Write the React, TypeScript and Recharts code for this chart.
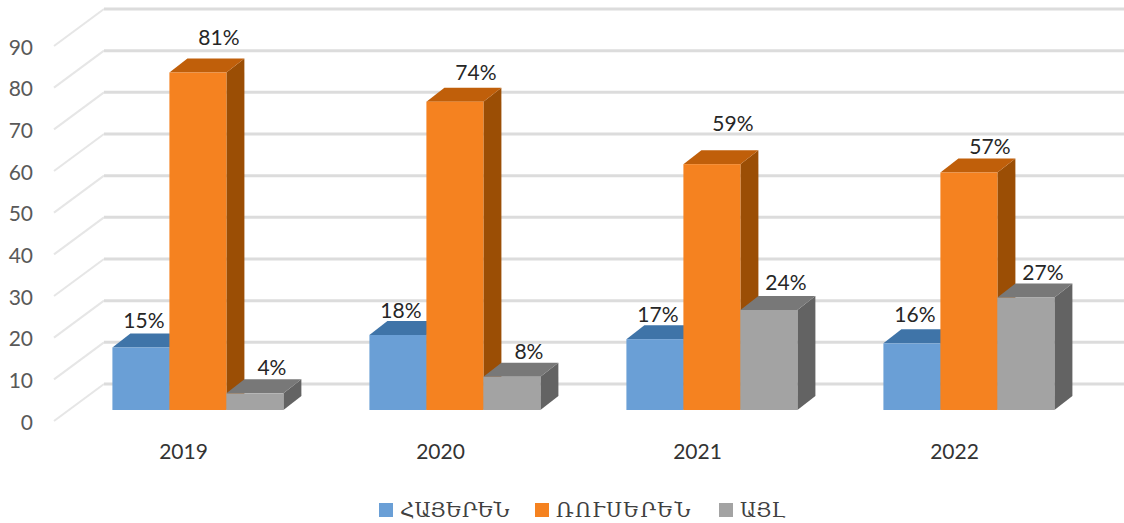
import { BarChart, Bar, XAxis, YAxis, CartesianGrid, Legend, LabelList } from 'recharts';

const YEARS = ['2019', '2020', '2021', '2022'];
const ARMENIAN = [15, 18, 17, 16];
const RUSSIAN = [81, 74, 59, 57];
const OTHER = [4, 8, 24, 27];
const Y_TICKS = [0, 10, 20, 30, 40, 50, 60, 70, 80, 90];

const chartData = YEARS.map((year, i) => ({
  year,
  armenian: ARMENIAN[i],
  russian: RUSSIAN[i],
  other: OTHER[i],
}));

const NUM_FONT = 'Lato, "Open Sans", sans-serif';
const ARM_FONT = '"DejaVu Serif", serif';

// how far the bars and walls are pushed back, the fake 3D
const DEPTH_X = 18;
const DEPTH_Y = 14;

const BLUE = { front: '#6A9FD6', top: '#3F74A8', side: '#2F5F8E' };
const ORANGE = { front: '#F58220', top: '#C05F0A', side: '#9B4E05' };
const GRAY = { front: '#A3A3A3', top: '#787878', side: '#636363' };

const LEGEND_ITEMS = [
  { label: 'ՀԱՅԵՐԵՆ', color: BLUE.front, left: 379, spacing: 0 },
  { label: 'ՌՈՒՍԵՐԵՆ', color: ORANGE.front, left: 535, spacing: 1.2 },
  { label: 'ԱՅԼ', color: GRAY.front, left: 719, spacing: 0 },
];

function bar3d(colors: { front: string; top: string; side: string }) {
  return (props: any) => {
    const { x, y, width, height } = props;
    const r = x + width;
    const b = y + height;
    return (
      <g>
        <polygon points={`${r},${y} ${r + DEPTH_X},${y - DEPTH_Y} ${r + DEPTH_X},${b - DEPTH_Y} ${r},${b}`} fill={colors.side} />
        <polygon points={`${x},${y} ${x + DEPTH_X},${y - DEPTH_Y} ${r + DEPTH_X},${y - DEPTH_Y} ${r},${y}`} fill={colors.top} />
        <rect x={x} y={y} width={width} height={height} fill={colors.front} />
      </g>
    );
  };
}

function gridLine(props: any) {
  const { y1 } = props;
  return (
    <g key={`grid-${y1}`}>
      <line x1={54} y1={y1 + 11} x2={104} y2={y1 - 26} stroke="#E6E6E6" strokeWidth={2} />
      <line x1={104} y1={y1 - 26} x2={1124} y2={y1 - 26} stroke="#DCDCDC" strokeWidth={3} />
    </g>
  );
}

function dataLabel(dx: number, lifts: number[]) {
  return (props: any) => {
    const { x, y, width, value, index } = props;
    return (
      <text
        x={x + width / 2 + dx}
        y={y - lifts[index]}
        textAnchor="middle"
        dominantBaseline="central"
        fontFamily={NUM_FONT}
        fontSize={21}
        fill="#262626"
      >
        {value}%
      </text>
    );
  };
}

function YearTick(props: any) {
  const { x, payload } = props;
  return (
    <text x={x - 15} y={450} textAnchor="middle" dominantBaseline="central" fontFamily={NUM_FONT} fontSize={21} fill="#333333">
      {payload.value}
    </text>
  );
}

function ValueTick(props: any) {
  const { y, payload } = props;
  return (
    <text x={33} y={y + 11} textAnchor="end" dominantBaseline="central" fontFamily={NUM_FONT} fontSize={21} fill="#595959">
      {payload.value}
    </text>
  );
}

function LegendRow() {
  return (
    <div style={{ position: 'relative', height: 30, fontFamily: ARM_FONT, fontSize: 20, color: '#404040' }}>
      {LEGEND_ITEMS.map((item) => (
        <div
          key={item.label}
          style={{ position: 'absolute', left: item.left, top: 0, display: 'flex', alignItems: 'center', height: 30, whiteSpace: 'nowrap', letterSpacing: item.spacing }}
        >
          <span style={{ width: 14, height: 14, background: item.color, marginRight: 7, display: 'inline-block' }} />
          {item.label}
        </div>
      ))}
    </div>
  );
}

export default function App() {
  return (
    <div style={{ position: 'absolute', left: 0, top: 0, width: 1124, height: 523, background: '#fff' }}>
      <BarChart
        width={1124}
        height={523}
        data={chartData}
        barGap={0}
        barCategoryGap="16.5%"
        margin={{ top: 35, right: 26, bottom: 83, left: 0 }}
      >
        <CartesianGrid vertical={false} horizontal={gridLine} />
        <XAxis dataKey="year" axisLine={false} tickLine={false} height={30} tick={YearTick} />
        <YAxis domain={[0, 90]} ticks={Y_TICKS} width={70} axisLine={false} tickLine={false} tick={ValueTick} />
        <Legend verticalAlign="middle" content={LegendRow} wrapperStyle={{ top: 495, left: 0, width: 1124 }} />
        <Bar dataKey="armenian" name="ՀԱՅԵՐԵՆ" shape={bar3d(BLUE)} isAnimationActive={false}>
          <LabelList dataKey="armenian" content={dataLabel(3, [28, 26, 26, 30])} />
        </Bar>
        <Bar dataKey="russian" name="ՌՈՒՍԵՐԵՆ" shape={bar3d(ORANGE)} isAnimationActive={false}>
          <LabelList dataKey="russian" content={dataLabel(21, [36, 30, 42, 27])} />
        </Bar>
        <Bar dataKey="other" name="ԱՅԼ" shape={bar3d(GRAY)} isAnimationActive={false}>
          <LabelList dataKey="other" content={dataLabel(17, [27, 26, 29, 26])} />
        </Bar>
      </BarChart>
    </div>
  );
}
